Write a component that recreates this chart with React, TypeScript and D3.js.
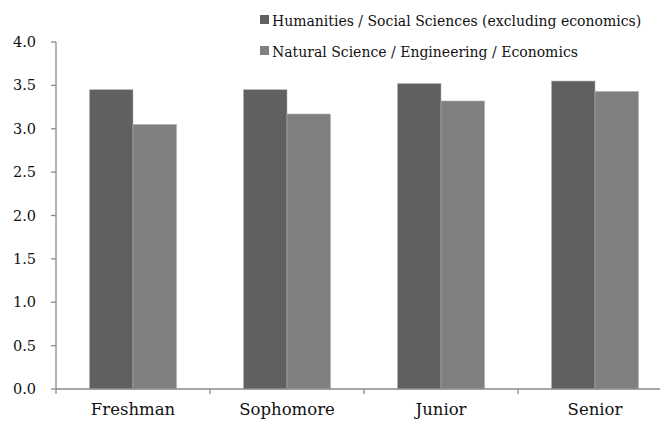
import React from "react";
import * as d3 from "d3";

const categories = ["Freshman", "Sophomore", "Junior", "Senior"];
const seriesNames = [
  "Humanities / Social Sciences (excluding economics)",
  "Natural Science / Engineering / Economics",
];
const humanities = [3.45, 3.45, 3.52, 3.55];
const naturalScience = [3.05, 3.17, 3.32, 3.43];
const yTicks = [0, 0.5, 1.0, 1.5, 2.0, 2.5, 3.0, 3.5, 4.0];

const colors = ["#606060", "#808080"];
const FONT = "'DejaVu Serif', 'Liberation Serif', serif";

export default function App() {
  const W = 660;
  const H = 426;
  const left = 56;
  const bandW = 154;
  const x = d3
    .scaleBand<string>()
    .domain(categories)
    .range([left, left + bandW * categories.length])
    .paddingInner(0)
    .paddingOuter(0);
  const y = d3.scaleLinear().domain([0, 4]).range([389, 42]);
  const inner = d3
    .scaleBand<number>()
    .domain([0, 1])
    .range([0, bandW])
    .paddingInner(0)
    .paddingOuter(0.77);
  const series = [humanities, naturalScience];
  const axisColor = "#8a8a8a";

  return (
    <svg
      width={W}
      height={H}
      style={{ position: "absolute", left: 0, top: 0, background: "#fff" }}
    >
      {/* bars */}
      {series.map((vals, si) =>
        vals.map((v, ci) => (
          <rect
            key={`${si}-${ci}`}
            x={(x(categories[ci]) as number) + (inner(si) as number)}
            y={y(v)}
            width={inner.bandwidth()}
            height={y(0) - y(v)}
            fill={colors[si]}
            stroke="#b0b0b0"
            strokeWidth={0.6}
          />
        ))
      )}
      {/* y axis */}
      <line x1={left} x2={left} y1={y(4)} y2={y(0)} stroke={axisColor} strokeWidth={1.3} />
      {yTicks.map((t) => (
        <g key={t}>
          <line x1={left - 5} x2={left} y1={y(t)} y2={y(t)} stroke={axisColor} strokeWidth={1.3} />
          <text
            x={36}
            y={y(t)}
            dy="0.35em"
            textAnchor="end"
            style={{ fontFamily: FONT, fontSize: 14.5 }}
            fill="#111"
          >
            {t.toFixed(1)}
          </text>
        </g>
      ))}
      {/* x axis */}
      <line x1={left} x2={W} y1={y(0)} y2={y(0)} stroke={axisColor} strokeWidth={1.3} />
      {categories.map((c) => (
        <g key={c}>
          <line
            x1={x(c) as number}
            x2={x(c) as number}
            y1={y(0)}
            y2={y(0) + 5}
            stroke={axisColor}
            strokeWidth={1.3}
          />
          <text
            x={(x(c) as number) + bandW / 2}
            y={415}
            textAnchor="middle"
            style={{ fontFamily: FONT, fontSize: 16.5 }}
            fill="#111"
          >
            {c}
          </text>
        </g>
      ))}
      {/* legend */}
      {seriesNames.map((n, i) => (
        <g key={n}>
          <rect x={260} y={15 + i * 31} width={9} height={9} fill={colors[i]} />
          <text
            x={272}
            y={26 + i * 31}
            style={{ fontFamily: FONT, fontSize: 14 }}
            fill="#111"
          >
            {n}
          </text>
        </g>
      ))}
    </svg>
  );
}
